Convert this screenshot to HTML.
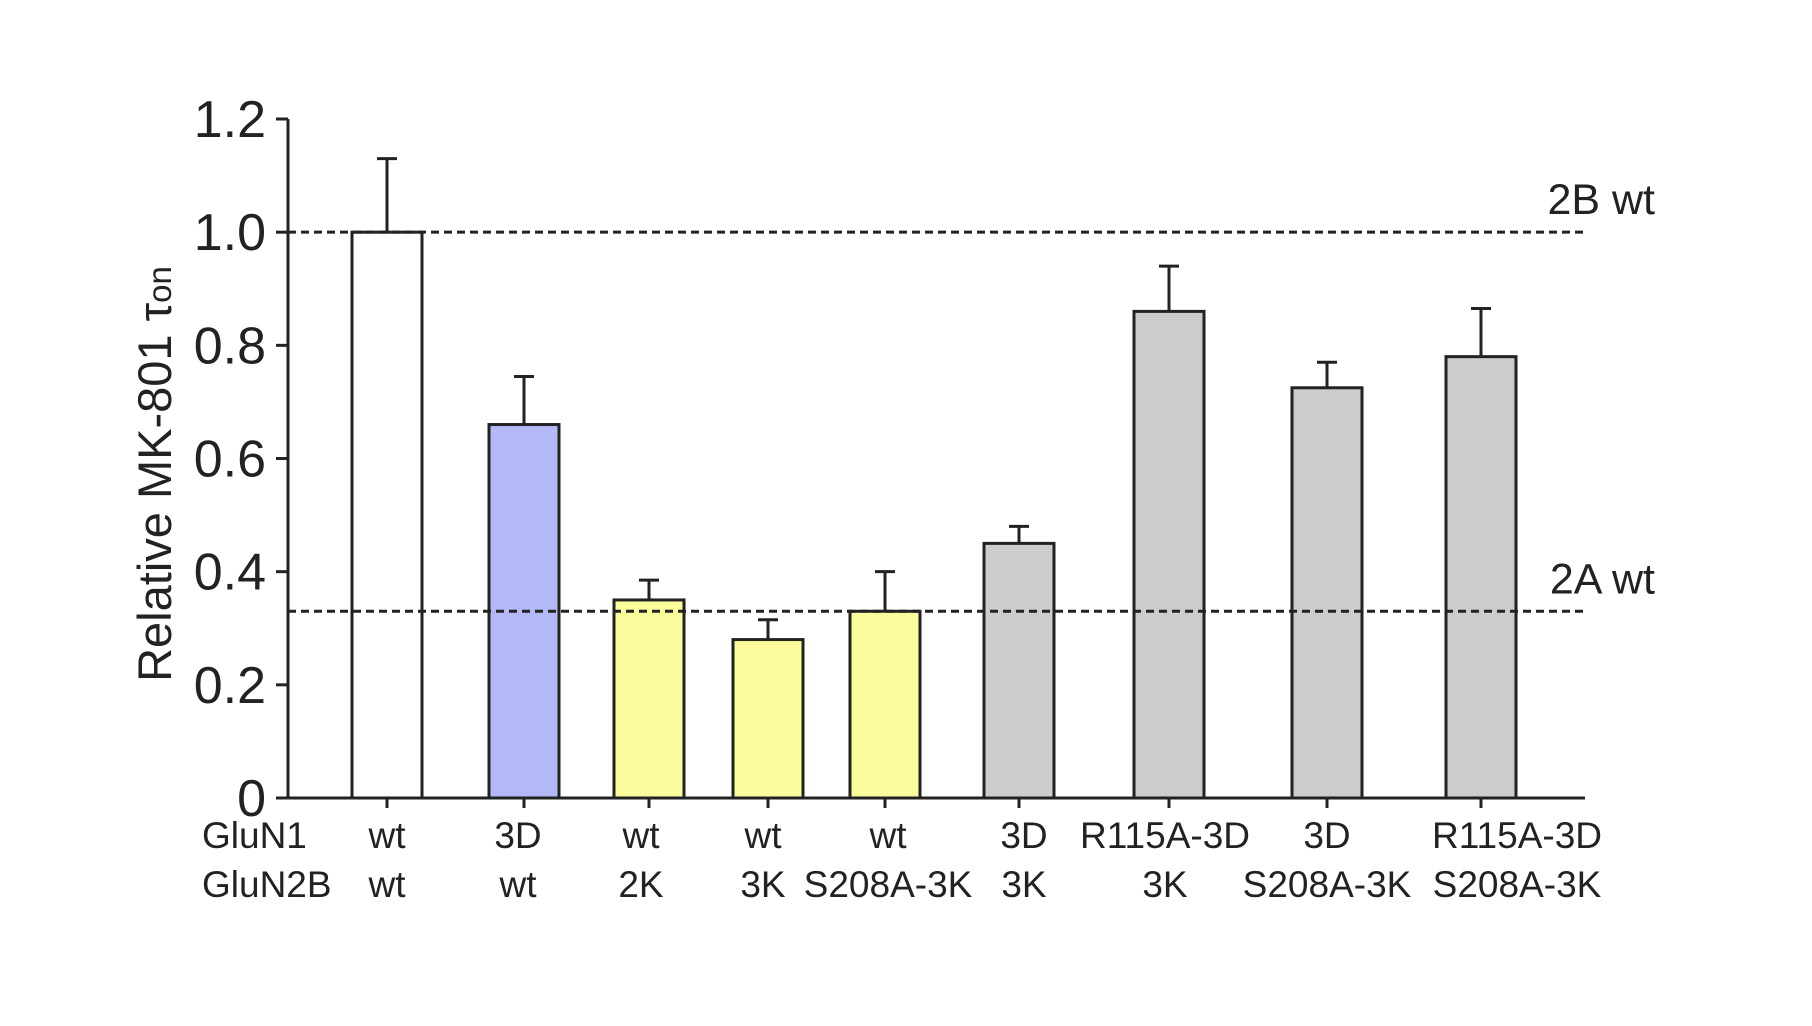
<!DOCTYPE html>
<html><head><meta charset="utf-8"><style>
html,body{margin:0;padding:0;background:#fff;}
svg{display:block;font-family:"Liberation Sans",Arial,sans-serif;}
</style></head><body>
<svg id="chart" width="1812" height="1026">
<g id="g"></g>
</svg>
<script>
const categoriesN1 = ["wt","3D","wt","wt","wt","3D","R115A-3D","3D","R115A-3D"];
const categoriesN2B = ["wt","wt","2K","3K","S208A-3K","3K","3K","S208A-3K","S208A-3K"];
const values = [1.0,0.66,0.35,0.28,0.33,0.45,0.86,0.725,0.78];
const errors = [0.13,0.085,0.035,0.035,0.07,0.03,0.08,0.045,0.085];
const fills = ["#ffffff","#b3b8f7","#fbfd9d","#fbfd9d","#fbfd9d","#cccccc","#cccccc","#cccccc","#cccccc"];
const yTicks = [0,0.2,0.4,0.6,0.8,1.0,1.2];
const yTickLabels = ["0","0.2","0.4","0.6","0.8","1.0","1.2"];
const refValues = [1.0,0.33];
const refLabels = ["2B wt","2A wt"];
const barCenters = [387,524,649,768,885,1019,1169,1327,1481];
const labelCenters = [387,518,641,763,888,1024,1165,1327,1517];

const NS="http://www.w3.org/2000/svg";
const g=document.getElementById('g');
const y0=798, yTop=119, xL=288, xR=1585, bw=70;
const yScale=v=>y0-(v/1.2)*(y0-yTop);
function el(t,a,txt){const e=document.createElementNS(NS,t);for(const k in a)e.setAttribute(k,a[k]);if(txt!=null)e.textContent=txt;g.appendChild(e);return e;}

values.forEach((v,i)=>{
  const cx=barCenters[i], yt=yScale(v), ye=yScale(v+errors[i]);
  const ln=el('line',{x1:cx,x2:cx,y1:ye,y2:yt,stroke:'#222','stroke-width':3});
  
  
  const cap=el('line',{x1:cx-10,x2:cx+10,y1:ye,y2:ye,stroke:'#222','stroke-width':3});
  
  
  const r=el('rect',{x:cx-bw/2,y:yt,width:bw,height:y0-yt,fill:fills[i],stroke:'#222','stroke-width':3});
  
  
  const t1=el('text',{x:labelCenters[i],y:848,'font-size':37,'text-anchor':'middle',fill:'#222'},categoriesN1[i]);
  
  
  const t2=el('text',{x:labelCenters[i],y:897,'font-size':37,'text-anchor':'middle',fill:'#222'},categoriesN2B[i]);
  
  
});
refValues.forEach((v,i)=>{
  const y=yScale(v);
  const l=el('line',{x1:xL,x2:xR,y1:y,y2:y,stroke:'#222','stroke-width':3,'stroke-dasharray':'8,5'});
  
  
  const t=el('text',{x:1655,y:y-18,'font-size':43,'text-anchor':'end',fill:'#222'},refLabels[i]);
  
  
});
const ya=el('line',{x1:xL,x2:xL,y1:yTop,y2:y0,stroke:'#222','stroke-width':3});


const xa=el('line',{x1:xL,x2:xR,y1:y0,y2:y0,stroke:'#222','stroke-width':3});


yTicks.forEach((v,i)=>{
  const y=yScale(v);
  const tk=el('line',{x1:xL-12,x2:xL,y1:y,y2:y,stroke:'#222','stroke-width':3});
  
  
  const t=el('text',{x:xL-22,y:y+18,'font-size':52,'text-anchor':'end',fill:'#222'},yTickLabels[i]);
  
  
});
barCenters.forEach(cx=>{
  const tk=el('line',{x1:cx,x2:cx,y1:y0,y2:y0+10,stroke:'#222','stroke-width':3});
  
  
});
const r1=el('text',{x:202,y:848,'font-size':37,fill:'#222'},'GluN1');


const r2=el('text',{x:202,y:897,'font-size':37,fill:'#222'},'GluN2B');


const yl=el('text',{x:0,y:0,'font-size':47,'text-anchor':'middle',fill:'#222',transform:'translate(171,474) rotate(-90)'});


yl.innerHTML='Relative MK-801 τ<tspan font-size="33">on</tspan>';
</script>
</body></html>
